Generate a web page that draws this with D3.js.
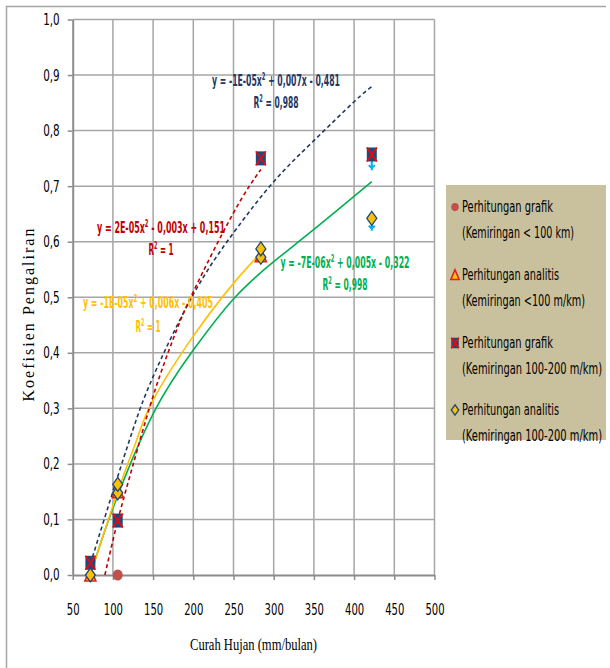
<!DOCTYPE html>
<html>
<head>
<meta charset="utf-8">
<script src="https://cdn.jsdelivr.net/npm/d3@7"></script>
<style>
  body { margin: 0; background: #fff; }
  svg { display: block; }
  .narrow { font-family: "Liberation Sans Narrow", "DejaVu Sans Condensed", "Open Sans", sans-serif; }
  .serif { font-family: "Liberation Serif", "DejaVu Serif", serif; }
</style>
</head>
<body>
<div id="graph-container"></div>
<script>
// Axis ticks
const xTicks = [50, 100, 150, 200, 250, 300, 350, 400, 450, 500];
const yTicks = [0, 0.1, 0.2, 0.3, 0.4, 0.5, 0.6, 0.7, 0.8, 0.9, 1.0];

// Data points [curah hujan, koefisien]
const grafikKecil = [[106, 0.0]];                                            // red circle
const analitisKecil = [[72, 0.0], [106, 0.15], [284, 0.575]];                // triangle
const grafikSedang = [[72, 0.022], [106, 0.098], [284, 0.75], [422, 0.757]]; // square
const analitisSedang = [[72, 0.0], [106, 0.148], [106, 0.163], [284, 0.572], [284, 0.587], [422, 0.642]]; // diamond
const titikBiruMuda = [[422, 0.745], [422, 0.636]];                          // light blue marks under markers

// Trend lines
const trendMerah = [[90, 0.0], [100, 0.062], [110, 0.12], [125, 0.198], [150, 0.322], [175, 0.425], [200, 0.51], [250, 0.652], [284, 0.73]];
const trendBiru = [[72, 0.02], [100, 0.15], [125, 0.262], [150, 0.357], [200, 0.505], [250, 0.616], [300, 0.708], [350, 0.782], [400, 0.852], [422, 0.879]];
const trendKuning = [[72, 0.0], [106, 0.15], [130, 0.245], [150, 0.315], [200, 0.43], [250, 0.525], [284, 0.58]];
const trendHijau = [[72, 0.0], [100, 0.12], [150, 0.29], [200, 0.405], [250, 0.497], [300, 0.564], [350, 0.622], [422, 0.708]];

// Equation labels
const persamaan = [
  { eq: ["y = -1E-05x", "2", " + 0,007x - 0,481"], r2: "0,988", color: "#1F3864", cx: 276, ey: 86, ry: 108, w: 128, rw: 45 },
  { eq: ["y = 2E-05x", "2", " - 0,003x + 0,151"], r2: "1", color: "#C00000", cx: 161, ey: 233, ry: 255, w: 128, rw: 25 },
  { eq: ["y = -1E-05x", "2", " + 0,006x - 0,405"], r2: "1", color: "#FFC000", cx: 148, ey: 308, ry: 332, w: 130, rw: 25 },
  { eq: ["y = -7E-06x", "2", " + 0,005x - 0,322"], r2: "0,998", color: "#00B050", cx: 345, ey: 268, ry: 290, w: 129, rw: 45 }
];

// Legend
const legendItems = [
  { l1: "Perhitungan grafik", w1: 91, l2: "(Kemiringan < 100 km)", w2: 112, shape: "circle" },
  { l1: "Perhitungan analitis", w1: 97, l2: "(Kemiringan <100 m/km)", w2: 123, shape: "triangle" },
  { l1: "Perhitungan grafik", w1: 91, l2: "(Kemiringan 100-200 m/km)", w2: 140, shape: "square" },
  { l1: "Perhitungan analitis", w1: 97, l2: "(Kemiringan 100-200 m/km)", w2: 140, shape: "diamond" }
];

const W = 610, H = 668;
const margin = { top: 19.5, left: 72.7 };
const width = 361.8;
const height = 555.5;

const svg = d3.select("#graph-container")
  .append("svg")
    .attr("width", W)
    .attr("height", H);

// outer frame (top + left)
svg.append("path")
  .attr("d", "M6.5,668 V6.5 H606")
  .attr("fill", "none")
  .attr("stroke", "#A6A6A6")
  .attr("stroke-width", 1.5);

const g = svg.append("g")
  .attr("transform", `translate(${margin.left},${margin.top})`);

const x = d3.scaleLinear().domain([50, 500]).range([0, width]);
const y = d3.scaleLinear().domain([0, 1]).range([height, 0]);

// gridlines
g.selectAll(".vgrid")
  .data(xTicks.slice(1))
  .join("line")
    .attr("x1", d => x(d)).attr("x2", d => x(d))
    .attr("y1", 0).attr("y2", height)
    .attr("stroke", "#A6A6A6").attr("stroke-width", 1.5);

g.selectAll(".hgrid")
  .data(yTicks.slice(1))
  .join("line")
    .attr("x1", 0).attr("x2", width)
    .attr("y1", d => y(d)).attr("y2", d => y(d))
    .attr("stroke", "#A6A6A6").attr("stroke-width", 1.5);

const fmt = d => d3.format(".1f")(d).replace(".", ",");

// axes
const xAxis = g.append("g")
  .attr("transform", `translate(0,${height})`)
  .call(d3.axisBottom(x).tickValues(xTicks).tickFormat(d3.format("d")).tickSize(5).tickSizeOuter(0).tickPadding(24));

const yAxis = g.append("g")
  .call(d3.axisLeft(y).tickValues(yTicks).tickFormat(fmt).tickSize(5).tickSizeOuter(0).tickPadding(8));

[xAxis, yAxis].forEach(a => {
  a.select(".domain").attr("stroke", "#8C8C8C").attr("stroke-width", 2);
  a.selectAll(".tick line").attr("stroke", "#8C8C8C").attr("stroke-width", 1.5);
  a.selectAll(".tick text")
    .attr("class", "narrow")
    .attr("font-size", 15.5)
    .attr("fill", "#000")
    .attr("lengthAdjust", "spacingAndGlyphs");
});
xAxis.selectAll(".tick text").attr("textLength", d => String(d).length * 6.4);
yAxis.selectAll(".tick text").attr("textLength", 16.5);

// axis titles
svg.append("text")
  .attr("class", "serif")
  .attr("x", 253.5).attr("y", 650)
  .attr("text-anchor", "middle")
  .attr("font-size", 17)
  .attr("textLength", 127)
  .attr("lengthAdjust", "spacingAndGlyphs")
  .text("Curah Hujan (mm/bulan)");

svg.append("text")
  .attr("class", "serif")
  .attr("transform", "translate(34,315) rotate(-90)")
  .attr("text-anchor", "middle")
  .attr("font-size", 16)
  .attr("textLength", 173)
  .attr("lengthAdjust", "spacing")
  .text("Koefisien Pengaliran");

// trend lines
const line = d3.line()
  .x(d => x(d[0]))
  .y(d => y(d[1]))
  .curve(d3.curveNatural);

const trends = [
  { data: trendHijau, color: "#00B050", dash: null },
  { data: trendKuning, color: "#FFC000", dash: null },
  { data: trendBiru, color: "#1F3864", dash: "4,3" },
  { data: trendMerah, color: "#C00000", dash: "4,3" }
];

trends.forEach(t => {
  g.append("path")
    .datum(t.data)
    .attr("fill", "none")
    .attr("stroke", t.color)
    .attr("stroke-width", 1.6)
    .attr("stroke-dasharray", t.dash)
    .attr("d", line);
});

// marker shapes
function drawMarker(sel, shape, s) {
  s = s || 1;
  if (shape === "circle") {
    sel.append("ellipse").attr("rx", 5 * s).attr("ry", 5.5 * s).attr("fill", "#C0504D");
  } else if (shape === "triangle") {
    sel.append("path")
      .attr("d", `M0,${-7 * s} L${5.5 * s},${6 * s} L${-5.5 * s},${6 * s} Z`)
      .attr("fill", "#FFC000").attr("stroke", "#E02020").attr("stroke-width", 1.6);
  } else if (shape === "square") {
    sel.append("rect")
      .attr("x", -5 * s).attr("y", -7 * s).attr("width", 10 * s).attr("height", 14 * s)
      .attr("fill", "#1F497D");
    sel.append("path")
      .attr("d", `M${-5 * s},${-7 * s} L${5 * s},${7 * s} M${5 * s},${-7 * s} L${-5 * s},${7 * s}`)
      .attr("stroke", "#FF0000").attr("stroke-width", 1.6);
  } else if (shape === "diamond") {
    sel.append("path")
      .attr("d", `M0,${-7 * s} L${5 * s},0 L0,${7 * s} L${-5 * s},0 Z`)
      .attr("fill", "#FFC000").attr("stroke", "#1F497D").attr("stroke-width", 1.3);
  } else if (shape === "star") {
    sel.append("path")
      .attr("d", "M0,-9 V9 M-3,4 L0,7 L3,4")
      .attr("fill", "none")
      .attr("stroke", "#00B0F0").attr("stroke-width", 2);
  }
}

const series = [
  { data: titikBiruMuda, shape: "star" },
  { data: grafikKecil, shape: "circle" },
  { data: analitisKecil, shape: "triangle" },
  { data: grafikSedang, shape: "square" },
  { data: analitisSedang, shape: "diamond" }
];

series.forEach(sr => {
  g.selectAll(null)
    .data(sr.data)
    .join("g")
      .attr("transform", d => `translate(${x(d[0])},${y(d[1])})`)
      .each(function () { drawMarker(d3.select(this), sr.shape); });
});

// equation labels
persamaan.forEach(p => {
  const t = svg.append("text")
    .attr("class", "narrow")
    .attr("x", p.cx).attr("y", p.ey)
    .attr("text-anchor", "middle")
    .attr("font-size", 15)
    .attr("font-weight", "bold")
    .attr("fill", p.color)
    .attr("textLength", p.w)
    .attr("lengthAdjust", "spacingAndGlyphs");
  t.append("tspan").text(p.eq[0]);
  t.append("tspan").attr("dy", -6).attr("font-size", 10).text(p.eq[1]);
  t.append("tspan").attr("dy", 6).text(p.eq[2]);

  const r = svg.append("text")
    .attr("class", "narrow")
    .attr("x", p.cx).attr("y", p.ry)
    .attr("text-anchor", "middle")
    .attr("font-size", 15)
    .attr("font-weight", "bold")
    .attr("fill", p.color)
    .attr("textLength", p.rw)
    .attr("lengthAdjust", "spacingAndGlyphs");
  r.append("tspan").text("R");
  r.append("tspan").attr("dy", -6).attr("font-size", 10).text("2");
  r.append("tspan").attr("dy", 6).text(" = " + p.r2);
});

// legend
const legend = svg.append("g");
legend.append("rect")
  .attr("x", 446).attr("y", 185)
  .attr("width", 160).attr("height", 255)
  .attr("fill", "#C9C09E");

const rowY = [207, 275, 343, 410];
legendItems.forEach((it, i) => {
  const row = legend.append("g").attr("transform", `translate(455,${rowY[i]})`);
  drawMarker(row, it.shape, 0.75);
  row.append("text")
    .attr("class", "narrow")
    .attr("x", 7).attr("y", 5)
    .attr("font-size", 15)
    .attr("fill", "#000")
    .attr("textLength", it.w1)
    .attr("lengthAdjust", "spacingAndGlyphs")
    .text(it.l1);
  row.append("text")
    .attr("class", "narrow")
    .attr("x", 7).attr("y", 31)
    .attr("font-size", 15)
    .attr("fill", "#000")
    .attr("textLength", it.w2)
    .attr("lengthAdjust", "spacingAndGlyphs")
    .text(it.l2);
});
</script>
</body>
</html>
